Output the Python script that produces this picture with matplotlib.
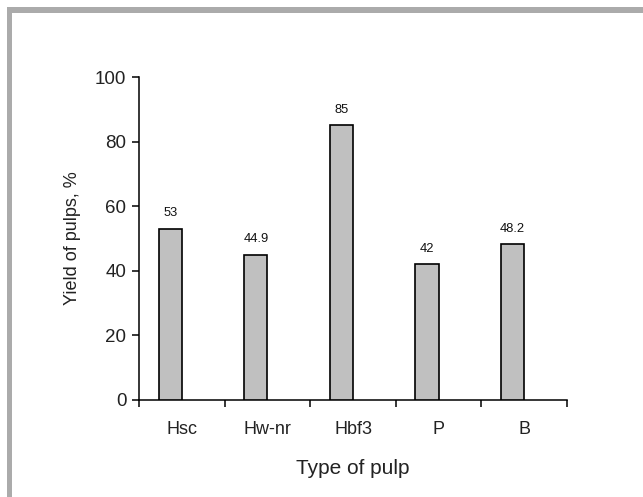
import matplotlib
matplotlib.use("Agg")
import matplotlib.pyplot as plt
from matplotlib.patches import Rectangle

pulps = ["Hsc", "Hw-nr", "Hbf3", "P", "B"]
yields = [53, 44.9, 85, 42, 48.2]
labels = ["53", "44.9", "85", "42", "48.2"]

plt.rcParams['font.family'] = ['Liberation Sans', 'DejaVu Sans']

fig = plt.figure(figsize=(6.43, 4.97), dpi=100)
fig.patch.set_facecolor("white")

# grey frame on top and left edges
fig.patches.append(Rectangle((7 / 643, 0), 5 / 643, 1 - 7 / 497, transform=fig.transFigure,
                             facecolor="#ababab", edgecolor="none"))
fig.patches.append(Rectangle((7 / 643, 1 - 12.5 / 497), 1, 5.5 / 497, transform=fig.transFigure,
                             facecolor="#ababab", edgecolor="none"))

ax = fig.add_axes([139 / 643, 1 - 400 / 497, (567 - 139) / 643, (400 - 77) / 497])

centers = [i + 0.5 for i in range(len(pulps))]
ax.bar(centers, yields, width=-0.27, align="edge", color="#c0c0c0",
       edgecolor="black", linewidth=1.2, zorder=3)

for c, v, t in zip(centers, yields, labels):
    ax.text(c - 0.135, v + 3, t, ha="center", va="bottom", fontsize=9.3, color="#111111")

ax.set_xlim(0, 5)
ax.set_ylim(0, 100)
ax.set_yticks([0, 20, 40, 60, 80, 100])
ax.set_xticks(range(6))
ax.set_xticklabels([])
ax.set_xticks(centers, minor=True)
ax.set_xticklabels(pulps, minor=True)

ax.spines["top"].set_visible(False)
ax.spines["right"].set_visible(False)
for s in ("left", "bottom"):
    ax.spines[s].set_linewidth(1.1)
ax.tick_params(axis="both", which="major", direction="out", length=5, width=1.1, labelsize=13.5,
               colors="black", labelcolor="#222222")
ax.tick_params(axis="x", which="minor", length=0, labelsize=13, pad=15, labelcolor="#222222")
ax.tick_params(axis="y", pad=4)

ax.set_xlabel("Type of pulp", fontsize=15, color="#222222", labelpad=15)
ax.set_ylabel("Yield of pulps, %", fontsize=13, color="#222222", labelpad=10)

fig.savefig("out.png", dpi=100)
